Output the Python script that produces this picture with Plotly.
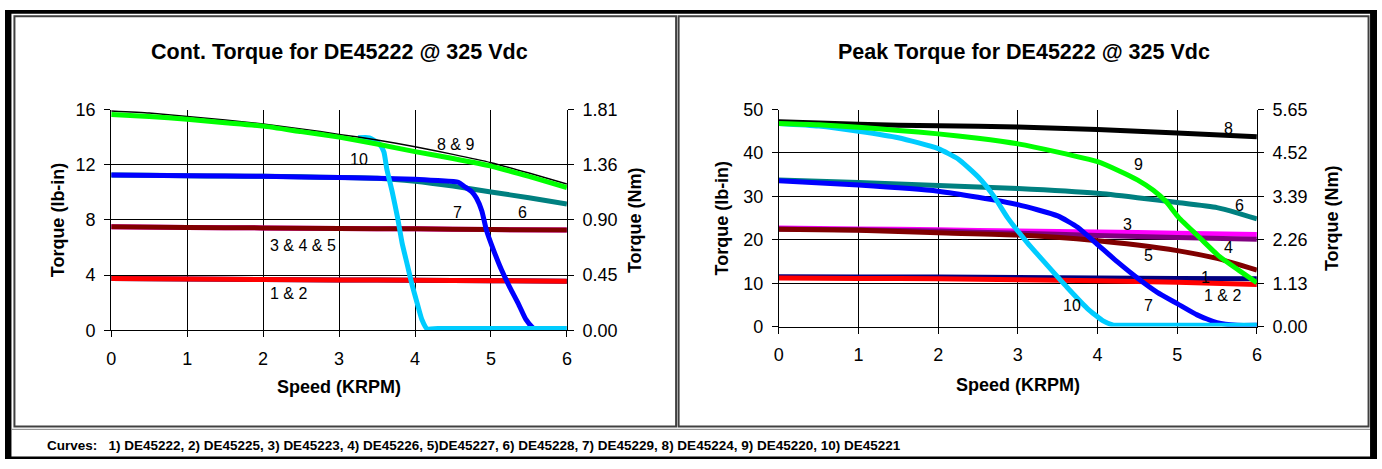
import plotly.graph_objects as go

W, H = 1382, 469
FONT = "Liberation Sans, Arial, sans-serif"
LBIN_TO_NM = 0.112985


def px(x):
    return x / W


def py(y):
    return 1 - y / H


# ---------------- Continuous torque (left chart) ----------------
cont_speed = [0, 0.5, 1, 1.5, 2, 2.5, 3, 3.5, 4, 4.5, 5, 5.5, 6]
cont_c8 = [15.9, 15.75, 15.5, 15.25, 14.95, 14.6, 14.2, 13.8, 13.3, 12.75, 12.15, 11.4, 10.6]
cont_c9 = [15.65, 15.5, 15.3, 15.05, 14.8, 14.4, 14.0, 13.5, 12.95, 12.45, 11.9, 11.15, 10.35]
cont_c6 = [11.25, 11.23, 11.2, 11.18, 11.16, 11.12, 11.08, 11.02, 10.8, 10.45, 10.03, 9.6, 9.15]
cont_c7_speed = [0, 1, 2, 3, 4, 4.3, 4.57, 4.66, 4.75, 4.81, 4.88, 4.94, 5.03, 5.14, 5.25, 5.36, 5.46, 5.55, 5.6]
cont_c7 = [11.25, 11.2, 11.16, 11.07, 10.95, 10.85, 10.73, 10.38, 10.03, 9.57, 8.65, 7.26, 5.87, 4.36, 3.09, 1.93, 0.78, 0.19, 0.05]
cont_c10_speed = [3.25, 3.4, 3.53, 3.59, 3.63, 3.7, 3.77, 3.83, 3.9, 3.96, 4.03, 4.09, 4.16, 4.3, 6]
cont_c10 = [13.95, 13.95, 13.5, 12.93, 11.65, 10.03, 8.18, 6.33, 4.71, 3.32, 1.93, 0.78, 0.1, 0.12, 0.12]
cont_speed_flat = [0, 1, 2, 3, 4, 5, 6]
cont_c345 = [7.5, 7.45, 7.42, 7.38, 7.35, 7.3, 7.26]
cont_c12 = [3.75, 3.72, 3.68, 3.65, 3.62, 3.59, 3.56]

cont_labels = ["8 & 9", "10", "7", "6", "3 & 4 & 5", "1 & 2"]
cont_label_x = [4.53, 3.26, 4.56, 5.41, 2.53, 2.33]
cont_label_y = [13.46, 12.35, 8.53, 8.53, 6.17, 2.69]

# ---------------- Peak torque (right chart) ----------------
peak_speed_a = [0, 1, 2, 3, 4, 5, 6]
peak_c8 = [47.2, 46.6, 46.25, 46.0, 45.4, 44.6, 43.75]
peak_c9_speed = [0, 0.5, 1, 1.5, 2, 2.5, 3, 3.5, 4, 4.28, 4.5, 4.7, 4.86, 5.02, 5.27, 5.52, 5.77, 6]
peak_c9 = [46.8, 46.5, 45.9, 45.2, 44.4, 43.4, 42.1, 40.2, 38.0, 35.8, 33.8, 31.4, 28.8, 25.1, 20.7, 16.3, 13.0, 10.1]
peak_c10_speed = [0, 0.5, 1, 1.5, 2, 2.25, 2.5, 2.7, 2.87, 3.12, 3.37, 3.62, 3.87, 4.07, 4.2, 4.35, 6]
peak_c10 = [46.8, 46.2, 45.0, 43.5, 41.0, 38.6, 34.5, 30.0, 25.1, 19.3, 14.1, 9.0, 4.2, 1.3, 0.35, 0.3, 0.3]
peak_c6_speed = [0, 1, 2, 3, 4, 4.5, 5, 5.5, 5.75, 6]
peak_c6 = [33.8, 33.2, 32.5, 31.8, 30.7, 29.7, 28.6, 27.4, 26.2, 24.8]
peak_c7_speed = [0, 1, 2, 2.5, 3, 3.5, 3.75, 4, 4.25, 4.5, 4.75, 5, 5.25, 5.5, 5.75, 6]
peak_c7 = [33.6, 32.6, 31.2, 29.8, 28.1, 25.5, 22.9, 18.9, 14.9, 11.2, 7.9, 5.3, 2.7, 0.9, 0.3, 0.3]
peak_c3 = [22.7, 22.5, 22.3, 22.0, 21.8, 21.5, 21.2]
peak_c4 = [22.5, 22.3, 22.0, 21.5, 21.0, 20.5, 20.1]
peak_c5_speed = [0, 1, 2, 3, 4, 4.5, 5, 5.5, 6]
peak_c5 = [22.4, 22.2, 21.6, 21.1, 19.8, 18.8, 17.5, 15.7, 13.0]
peak_c1 = [11.5, 11.45, 11.4, 11.3, 11.2, 11.1, 11.0]
peak_c2 = [11.2, 11.1, 11.0, 10.8, 10.55, 10.2, 9.7]

peak_labels = ["8", "9", "6", "3", "4", "5", "1", "1 & 2", "10", "7"]
peak_label_x = [5.64, 4.51, 5.78, 4.37, 5.65, 4.64, 5.36, 5.57, 3.68, 4.64]
peak_label_y = [45.7, 37.4, 27.9, 23.5, 18.2, 16.3, 11.2, 7.1, 4.9, 4.9]

# ticks
cont_ticks = [0, 4, 8, 12, 16]
peak_ticks = [0, 10, 20, 30, 40, 50]
speed_ticks = [0, 1, 2, 3, 4, 5, 6]

# colours
C_NAVY = "#000080"
C_RED = "#FF0000"
C_PURPLE = "#800080"
C_MAGENTA = "#FF00FF"
C_DARKRED = "#800000"
C_TEAL = "#008080"
C_BLUE = "#0000FF"
C_CYAN = "#00CCFF"
C_BLACK = "#000000"
C_GREEN = "#00FF00"

fig = go.Figure()


def add(x, y, color, width, xa, ya, opacity=1.0):
    fig.add_trace(go.Scatter(
        x=x, y=y, mode="lines", xaxis=xa, yaxis=ya, opacity=opacity,
        line=dict(color=color, width=width, shape="spline", smoothing=0.5),
        showlegend=False, hoverinfo="skip"))


# left chart
add(cont_speed_flat, cont_c12, C_NAVY, 5, "x", "y")
add(cont_speed_flat, cont_c12, C_RED, 5, "x", "y")
add(cont_speed_flat, cont_c345, C_MAGENTA, 5, "x", "y")
add(cont_speed_flat, cont_c345, C_DARKRED, 5, "x", "y")
add(cont_speed, cont_c6, C_TEAL, 5, "x", "y")
add(cont_c7_speed, cont_c7, C_BLUE, 5, "x", "y")
add(cont_c10_speed, cont_c10, C_CYAN, 5, "x", "y")
add(cont_speed, cont_c8, C_BLACK, 1.5, "x", "y")
add(cont_speed, cont_c9, C_GREEN, 5, "x", "y")
# invisible companion so the Nm axis is drawn
add(cont_speed, cont_c9, C_GREEN, 0, "x", "y3", opacity=0)

# right chart
add(peak_speed_a, peak_c1, C_NAVY, 5, "x2", "y2")
add(peak_speed_a, peak_c2, C_RED, 5, "x2", "y2")
add(peak_speed_a, peak_c3, C_MAGENTA, 5, "x2", "y2")
add(peak_speed_a, peak_c4, C_PURPLE, 5, "x2", "y2")
add(peak_c5_speed, peak_c5, C_DARKRED, 5, "x2", "y2")
add(peak_c6_speed, peak_c6, C_TEAL, 5, "x2", "y2")
add(peak_c7_speed, peak_c7, C_BLUE, 5, "x2", "y2")
add(peak_c10_speed, peak_c10, C_CYAN, 5, "x2", "y2")
add(peak_speed_a, peak_c8, C_BLACK, 5, "x2", "y2")
add(peak_c9_speed, peak_c9, C_GREEN, 5, "x2", "y2")
add(peak_speed_a, peak_c8, C_BLACK, 0, "x2", "y4", opacity=0)

tickfont = dict(family=FONT, size=18, color="#000")
common_x = dict(range=[0, 6], tickvals=speed_ticks, showgrid=True, gridcolor="#000", gridwidth=1,
                showline=True, linecolor="#000", linewidth=1, ticks="outside", ticklen=6,
                tickcolor="#000", tickfont=tickfont, zeroline=False, fixedrange=True,
                ticklabelstandoff=6)
common_y = dict(showgrid=True, gridcolor="#000", gridwidth=1, showline=True, linecolor="#000",
                linewidth=1, ticks="outside", ticklen=6, tickcolor="#000", tickfont=tickfont,
                zeroline=False, fixedrange=True, ticklabelstandoff=5)

L_X0, L_X1, L_Y0, L_Y1 = 107, 566, 104, 334.5
R_X0, R_X1, R_Y0, R_Y1 = 779.5, 1261, 104, 330.7

fig.update_layout(
    width=W, height=H, margin=dict(l=0, r=0, t=0, b=0),
    paper_bgcolor="white", plot_bgcolor="white",
    font=dict(family=FONT, color="#000"),
    xaxis=dict(domain=[px(L_X0), px(L_X1)], anchor="y", **common_x),
    yaxis=dict(domain=[py(L_Y1), py(L_Y0)], anchor="x", range=[0, 16], tickvals=cont_ticks, **common_y),
    yaxis3=dict(overlaying="y", anchor="x", side="right", range=[0, 16], tickvals=cont_ticks,
                ticktext=["%.2f" % (v * LBIN_TO_NM) for v in cont_ticks], **{**common_y, "showgrid": False}),
    xaxis2=dict(domain=[px(R_X0), px(R_X1)], anchor="y2", **common_x),
    yaxis2=dict(domain=[py(R_Y1), py(R_Y0)], anchor="x2", range=[0, 50], tickvals=peak_ticks, **common_y),
    yaxis4=dict(overlaying="y2", anchor="x2", side="right", range=[0, 50], tickvals=peak_ticks,
                ticktext=["%.2f" % (v * LBIN_TO_NM) for v in peak_ticks], **{**common_y, "showgrid": False}),
)

annotations = []
lblfont = dict(family=FONT, size=16, color="#000")
for t, x, y in zip(cont_labels, cont_label_x, cont_label_y):
    annotations.append(dict(text=t, x=x, y=y, xref="x", yref="y", showarrow=False, font=lblfont))
for t, x, y in zip(peak_labels, peak_label_x, peak_label_y):
    annotations.append(dict(text=t, x=x, y=y, xref="x2", yref="y2", showarrow=False, font=lblfont))

titlefont = dict(family=FONT, size=21.5, color="#000")
axfont = dict(family=FONT, size=18, color="#000")
texts = [
    ("<b>Cont. Torque for DE45222 @ 325 Vdc</b>", 337, 44, 0, titlefont),
    ("<b>Peak Torque for DE45222 @ 325 Vdc</b>", 1026, 44, 0, titlefont),
    ("<b>Speed (KRPM)</b>", 336, 394, 0, axfont),
    ("<b>Speed (KRPM)</b>", 1020, 392, 0, axfont),
    ("<b>Torque (lb-in)</b>", 53, 219, -90, axfont),
    ("<b>Torque (Nm)</b>", 634, 219, -90, axfont),
    ("<b>Torque (lb-in)</b>", 722, 217, -90, axfont),
    ("<b>Torque (Nm)</b>", 1336, 217, -90, axfont),
]
for t, x, y, ang, f in texts:
    annotations.append(dict(text=t, x=px(x), y=py(y), xref="paper", yref="paper", showarrow=False,
                            textangle=ang, font=f, xanchor="center", yanchor="middle"))
annotations.append(dict(
    text="<b>Curves:&nbsp;&nbsp; 1) DE45222, 2) DE45225, 3) DE45223, 4) DE45226, 5)DE45227, 6) DE45228, "
         "7) DE45229, 8) DE45224, 9) DE45220, 10) DE45221</b>",
    x=px(40), y=py(455), xref="paper", yref="paper", showarrow=False, xanchor="left", yanchor="middle",
    font=dict(family=FONT, size=13.5, color="#000")))
fig.update_layout(annotations=annotations)

shapes = []


def rect(x0, y0, x1, y1, fill=None, line=None, lw=0):
    shapes.append(dict(type="rect", xref="paper", yref="paper", x0=px(x0), x1=px(x1), y0=py(y1), y1=py(y0),
                       fillcolor=fill if fill else "rgba(0,0,0,0)",
                       line=dict(color=line if line else "rgba(0,0,0,0)", width=lw), layer="above"))


# outer black frame
rect(0, 0, 6.5, H, fill="#000")
rect(0, 0, W, 4, fill="#000")
rect(1375, 0, W, H, fill="#000")
rect(0, 466.5, W, H, fill="#000")
# panel frames
rect(9.5, 6.5, 676, 435, line="#404040", lw=2)
rect(678.5, 6.5, 1373.5, 435, line="#404040", lw=2)
# separator for bottom strip
shapes.append(dict(type="line", xref="paper", yref="paper", x0=px(6.5), x1=px(1375), y0=py(438), y1=py(438),
                   line=dict(color="#808080", width=1), layer="above"))
fig.update_layout(shapes=shapes)

fig.write_html("out.html", post_script="document.body.style.margin='0';document.body.style.overflow='hidden';")
